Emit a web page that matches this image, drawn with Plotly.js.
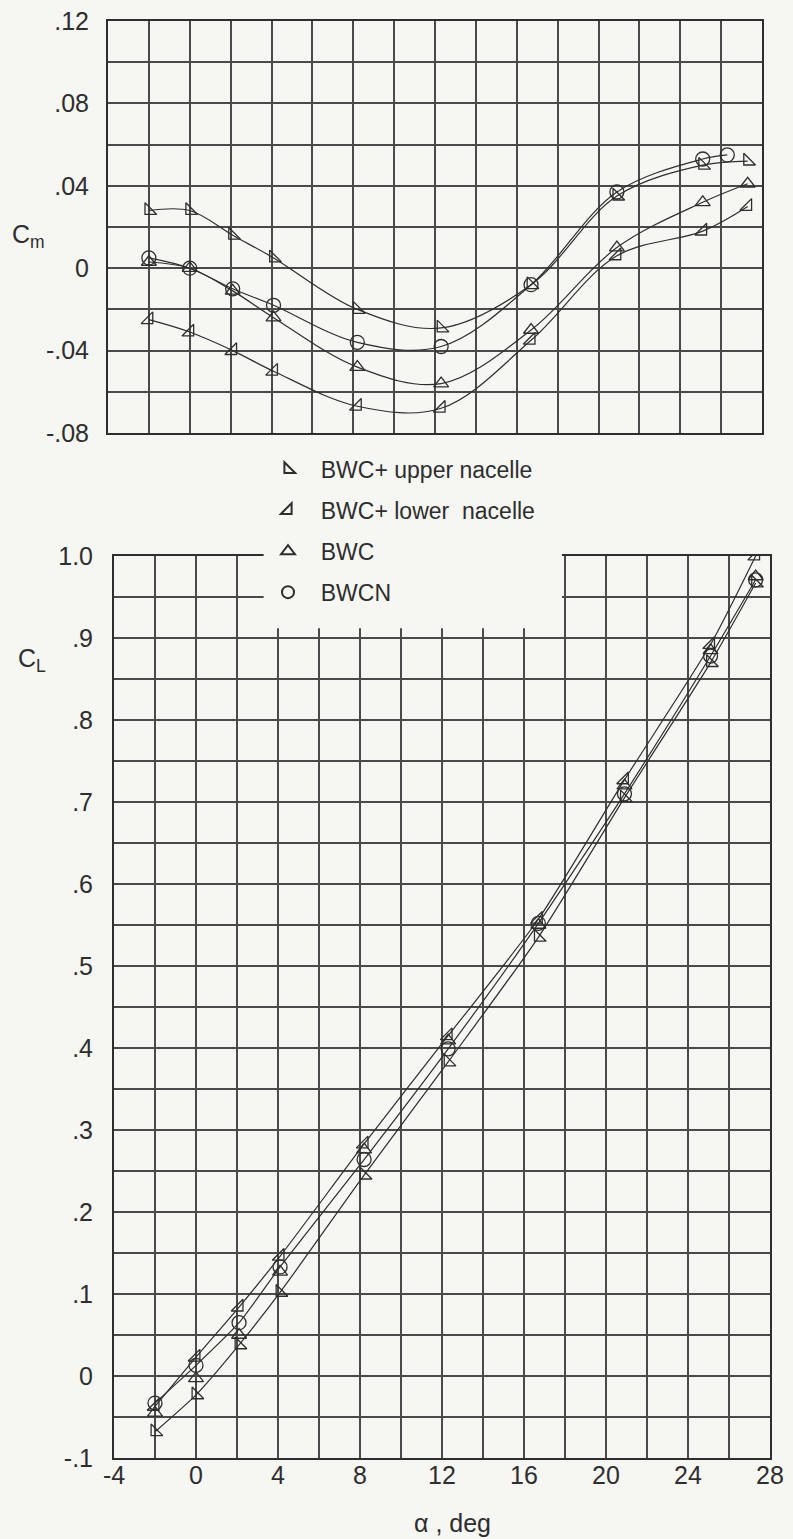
<!DOCTYPE html>
<html><head><meta charset="utf-8">
<script src="https://cdn.plot.ly/plotly-3.0.1.min.js"></script>
<style>html,body{margin:0;padding:0;background:#f6f6f3}</style>
</head><body><div id="chart" style="width:793px;height:1539px"></div>
<script>
// ---- data ----
const alpha      = [-2, 0, 2.1, 4.1, 8.2, 12.3, 16.7, 20.9, 25.1, 27.3];
const alphaBWCNcm = [-2, 0, 2.1, 4.1, 8.2, 12.3, 16.7, 20.9, 25.1, 26.3];

const cmUpper = [0.028, 0.028, 0.016, 0.005, -0.020, -0.029, -0.008, 0.035, 0.050, 0.052];
const cmLower = [-0.025, -0.031, -0.040, -0.050, -0.067, -0.068, -0.035, 0.006, 0.018, 0.030];
const cmBWC   = [0.003, 0.000, -0.011, -0.024, -0.048, -0.056, -0.030, 0.010, 0.032, 0.041];
const cmBWCN  = [0.005, 0.000, -0.010, -0.018, -0.036, -0.038, -0.008, 0.037, 0.053, 0.055];

const clUpper = [-0.068, -0.023, 0.038, 0.102, 0.245, 0.383, 0.535, 0.705, 0.870, 0.967];
const clLower = [-0.037, 0.023, 0.084, 0.146, 0.283, 0.415, 0.557, 0.727, 0.892, 1.000];
const clBWC   = [-0.045, -0.003, 0.050, 0.127, 0.276, 0.409, 0.550, 0.720, 0.885, 0.975];
const clBWCN  = [-0.033, 0.013, 0.065, 0.133, 0.264, 0.399, 0.552, 0.710, 0.878, 0.971];

const names = ['BWC+ upper nacelle', 'BWC+ lower  nacelle', 'BWC', 'BWCN'];
const symbols = ['triangle-sw-open', 'triangle-se-open', 'triangle-up-open', 'circle-open'];

// ticks (labelled) and grid lines
const xTicks = [-4, 0, 4, 8, 12, 16, 20, 24, 28];
const xText  = ['-4', '0', '4', '8', '12', '16', '20', '24', '28'];
const xGrid  = [-4,-2,0,2,4,6,8,10,12,14,16,18,20,22,24,26,28];
const cmTicks = [-0.08, -0.04, 0, 0.04, 0.08, 0.12];
const cmText  = ['-.08', '-.04', '0', '.04', '.08', '.12'];
const cmGrid  = [-0.08,-0.06,-0.04,-0.02,0,0.02,0.04,0.06,0.08,0.10,0.12];
const clTicks = [-0.1, 0, 0.1, 0.2, 0.3, 0.4, 0.5, 0.6, 0.7, 0.8, 0.9, 1.0];
const clText  = ['-.1', '0', '.1', '.2', '.3', '.4', '.5', '.6', '.7', '.8', '.9', '1.0'];
const clGrid  = [-0.1,-0.05,0,0.05,0.1,0.15,0.2,0.25,0.3,0.35,0.4,0.45,0.5,0.55,0.6,0.65,0.7,0.75,0.8,0.85,0.9,0.95,1.0];

// ---- style ----
const BG = '#f6f6f3';
const INK = '#2e2e2e';
const GRID = '#4a4a4a';
const FONT = 'Liberation Sans, Arial, sans-serif';
const W = 793, H = 1539;
const X1R = [-4, 28], Y1R = [-0.08, 0.12];
const X2R = [-4, 28], Y2R = [-0.1, 1.0];
const dom = (a, b, n) => [a / n, b / n];
const X1D = dom(108, 762, W), Y1D = [1 - 433 / H, 1 - 21 / H];
const X2D = dom(114, 770, W), Y2D = [1 - 1458 / H, 1 - 556 / H];

const cmSeries = [[alpha, cmUpper], [alpha, cmLower], [alpha, cmBWC], [alphaBWCNcm, cmBWCN]];
const clSeries = [[alpha, clUpper], [alpha, clLower], [alpha, clBWC], [alpha, clBWCN]];
const clLine = [true, true, false, true];

const traces = [];
for (let i = 0; i < 4; i++) {
  const [cx, cy] = cmSeries[i];
  traces.push({x: cx, y: cy, xaxis: 'x', yaxis: 'y', mode: 'lines', type: 'scatter',
    line: {shape: 'spline', smoothing: 1, color: INK, width: 1.2}, showlegend: false, hoverinfo: 'skip'});
  const [lx, ly] = clSeries[i];
  if (clLine[i]) traces.push({x: lx, y: ly, xaxis: 'x2', yaxis: 'y2', mode: 'lines', type: 'scatter',
    line: {shape: 'spline', smoothing: 0.6, color: INK, width: 1.2}, showlegend: false, hoverinfo: 'skip'});
}
for (let i = 0; i < 4; i++) {
  const mk = {symbol: symbols[i], size: i === 3 ? 14 : 13, color: INK, line: {width: 1.3, color: INK}};
  const [cx, cy] = cmSeries[i];
  traces.push({x: cx, y: cy, xaxis: 'x', yaxis: 'y', mode: 'markers', type: 'scatter',
    marker: mk, name: '\u00a0\u00a0' + names[i], legendgroup: 'g' + i, showlegend: true});
  const [lx, ly] = clSeries[i];
  traces.push({x: lx, y: ly, xaxis: 'x2', yaxis: 'y2', mode: 'markers', type: 'scatter',
    marker: mk, legendgroup: 'g' + i, showlegend: false});
}

const axBase = {showline: true, mirror: true, linecolor: INK, linewidth: 2,
  showgrid: true, gridcolor: GRID, gridwidth: 2, zeroline: false, ticks: '',
  tickmode: 'array', tickfont: {family: FONT, size: 25, color: INK}, fixedrange: true};
const minorGrid = vals => ({tickmode: 'array', tickvals: vals, showgrid: true, gridcolor: GRID, gridwidth: 2, ticks: ''});

// mask for the legend cut-out of the lower grid (in x2/y2 domain fractions)
const cut = {a0: 3.3, a1: 17.85, c0: 0.912, c1: 1.03};
const fx = v => (v - X2R[0]) / (X2R[1] - X2R[0]);
const fy = v => (v - Y2R[0]) / (Y2R[1] - Y2R[0]);

const layout = {
  width: W, height: H, margin: {l: 0, r: 0, t: 0, b: 0},
  paper_bgcolor: BG, plot_bgcolor: BG, showlegend: true,
  xaxis: Object.assign({}, axBase, {domain: X1D, range: X1R, tickvals: xTicks, ticktext: xText, showticklabels: false,
    anchor: 'y', minor: minorGrid(xGrid)}),
  yaxis: Object.assign({}, axBase, {domain: Y1D, range: Y1R, tickvals: cmTicks, ticktext: cmText, anchor: 'x',
    ticklabelstandoff: 12, minor: minorGrid(cmGrid)}),
  xaxis2: Object.assign({}, axBase, {domain: X2D, range: X2R, tickvals: xTicks, ticktext: xText, anchor: 'y2',
    ticklabelstandoff: -6, minor: minorGrid(xGrid)}),
  yaxis2: Object.assign({}, axBase, {domain: Y2D, range: Y2R, tickvals: clTicks, ticktext: clText, anchor: 'x2',
    ticklabelstandoff: 14, minor: minorGrid(clGrid)}),
  shapes: [{type: 'rect', xref: 'x2 domain', yref: 'y2 domain', x0: fx(cut.a0), x1: fx(cut.a1), y0: fy(cut.c0), y1: fy(cut.c1),
    fillcolor: BG, line: {width: 0}, layer: 'above'}],
  legend: {x: 268 / W, y: 1 - 448 / H, xanchor: 'left', yanchor: 'top', bgcolor: 'rgba(0,0,0,0)',
    font: {family: FONT, size: 23, color: INK}, tracegroupgap: 8, itemsizing: 'constant'},
  annotations: [
    {text: 'C<sub>m</sub>', xref: 'paper', yref: 'paper', x: 28 / W, y: 1 - 236 / H, xanchor: 'center', yanchor: 'middle',
      showarrow: false, font: {family: FONT, size: 25, color: INK}},
    {text: 'C<sub>L</sub>', xref: 'paper', yref: 'paper', x: 32 / W, y: 1 - 660 / H, xanchor: 'center', yanchor: 'middle',
      showarrow: false, font: {family: FONT, size: 25, color: INK}},
    {text: 'α , deg', xref: 'paper', yref: 'paper', x: 452 / W, y: 1 - 1523 / H, xanchor: 'center', yanchor: 'middle',
      showarrow: false, font: {family: FONT, size: 25, color: INK}}
  ]
};

Plotly.newPlot('chart', traces, layout, {displayModeBar: false, staticPlot: true});
</script></body></html>
